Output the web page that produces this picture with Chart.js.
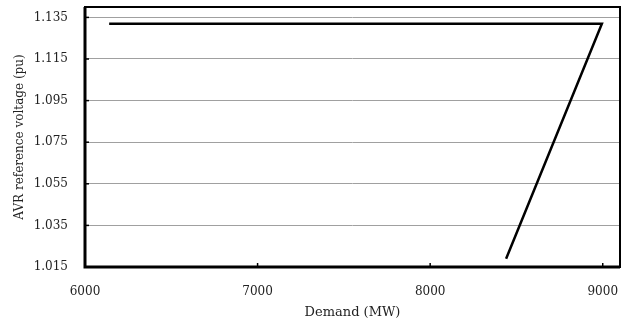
<!DOCTYPE html>
<html>
<head>
<meta charset="utf-8">
<script src="https://cdn.jsdelivr.net/npm/chart.js@4"></script>
<style>
	html, body { margin: 0; padding: 0; background: #fff; }
	#wrap { width: 628px; height: 321px; }
</style>
</head>
<body>
<div id="wrap"><canvas id="avrChart" width="628" height="321"></canvas></div>
<script>
// values
const demand = [6140, 8995, 8440];
const avrRef = [1.132, 1.132, 1.019];
const xTicks = [6000, 7000, 8000, 9000];
const yTicks = [1.015, 1.035, 1.055, 1.075, 1.095, 1.115, 1.135];

const fontFamily = "'DejaVu Serif', 'Liberation Serif', serif";

//draws the frame and the small inward tick marks
const framePlugin = {
	id: 'frame',
	afterDraw(chart) {
		const ctx = chart.ctx;
		const a = chart.chartArea;
		const xs = chart.scales.x;
		const ys = chart.scales.y;
		ctx.save();
		ctx.strokeStyle = '#000';
		ctx.lineWidth = 1.5;
		xTicks.forEach((v) => {
			const px = xs.getPixelForValue(v);
			ctx.beginPath();
			ctx.moveTo(px, a.bottom);
			ctx.lineTo(px, a.bottom - 4);
			ctx.stroke();
		});
		yTicks.forEach((v) => {
			const py = ys.getPixelForValue(v);
			ctx.beginPath();
			ctx.moveTo(a.left, py);
			ctx.lineTo(a.left + 4, py);
			ctx.stroke();
		});
		ctx.lineWidth = 2;
		ctx.strokeRect(a.left, a.top, a.right - a.left, a.bottom - a.top);
		ctx.lineWidth = 3;
		ctx.beginPath();
		ctx.moveTo(a.left, a.top);
		ctx.lineTo(a.left, a.bottom);
		ctx.lineTo(a.right, a.bottom);
		ctx.stroke();
		ctx.restore();
	}
};

const canvas = document.getElementById('avrChart');
const ctx = canvas.getContext('2d');

new Chart(ctx, {
	type: 'scatter',
	data: {
		datasets: [
			{
				data: demand.map((d, i) => ({ x: d, y: avrRef[i] })),
				showLine: true,
				borderColor: '#000',
				borderWidth: 2.5,
				pointRadius: 0,
				fill: false,
				tension: 0,
			},
		],
	},
	options: {
		responsive: false,
		animation: false,
		layout: {
			padding: { top: 7, right: 8, left: 0, bottom: 0 },
		},
		plugins: {
			legend: { display: false },
			tooltip: { enabled: false },
		},
		scales: {
			x: {
				type: 'linear',
				min: 6000,
				max: 9100,
				afterBuildTicks: (scale) => {
					scale.ticks = xTicks.map((v) => ({ value: v }));
				},
				afterFit: (scale) => {
					scale.height = 54;
					scale.paddingLeft = 0;
					scale.paddingRight = 0;
				},
				grid: { display: false },
				border: { display: false },
				ticks: {
					color: '#222',
					padding: 10,
					maxRotation: 0,
					font: { family: fontFamily, size: 12 },
					callback: (v) => String(v),
				},
				title: {
					display: true,
					text: 'Demand (MW)',
					color: '#222',
					font: { family: fontFamily, size: 13 },
					padding: { top: 0, bottom: 1 },
				},
			},
			y: {
				min: 1.015,
				max: 1.14,
				afterBuildTicks: (scale) => {
					scale.ticks = yTicks.map((v) => ({ value: v }));
				},
				afterFit: (scale) => {
					scale.width = 85;
					scale.paddingTop = 0;
					scale.paddingBottom = 0;
				},
				grid: {
					color: '#a0a0a0',
					lineWidth: 1,
					drawTicks: false,
				},
				border: { display: false },
				ticks: {
					color: '#222',
					padding: 17,
					font: { family: fontFamily, size: 12 },
					callback: (v) => v.toFixed(3),
				},
				title: {
					display: true,
					text: 'AVR reference voltage (pu)',
					color: '#222',
					font: { family: fontFamily, size: 12 },
					padding: { top: 13, bottom: 0 },
				},
			},
		},
	},
	plugins: [framePlugin],
});
</script>
</body>
</html>
